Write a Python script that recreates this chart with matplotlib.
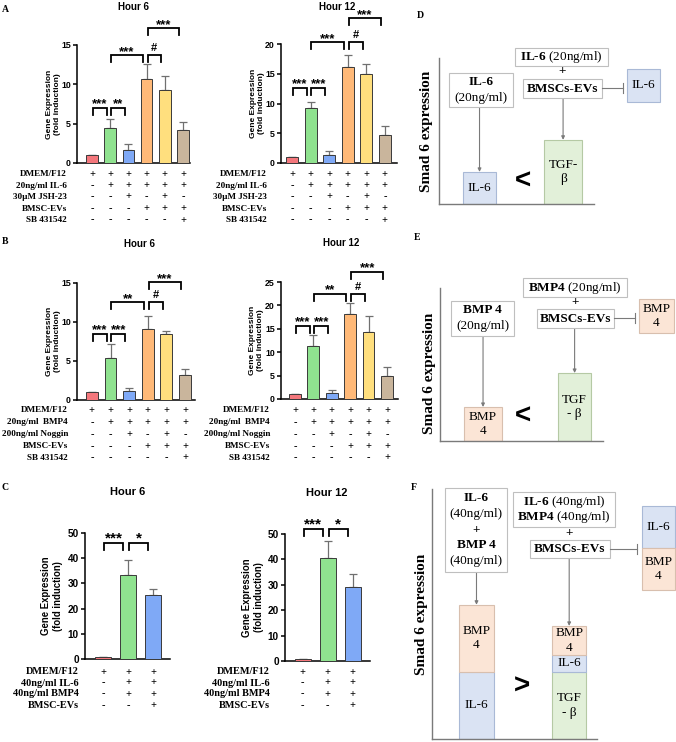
import matplotlib
matplotlib.use('Agg')
from matplotlib import pyplot as plt
from matplotlib import transforms
from matplotlib.patches import Rectangle
import numpy as np

plt.rcParams['mathtext.fontset'] = 'custom'
plt.rcParams['mathtext.rm'] = 'Liberation Serif'
plt.rcParams['mathtext.bf'] = 'Liberation Serif:bold'

W, H = 676, 742
SANS = 'Liberation Sans'
SERIF = 'Liberation Serif'

# bar chart data (fold induction, mean and upper SD)
bar_colors = ['#f4777c', '#8fe28f', '#7fa9f6', '#ffb978', '#ffdf7e', '#c9b59c']

a6_mean = [1.0, 4.4, 1.7, 10.7, 9.3, 4.2]
a6_err = [0.0, 1.25, 0.75, 1.85, 1.7, 1.05]
a12_mean = [1.0, 9.2, 1.4, 16.1, 14.9, 4.7]
a12_err = [0.0, 1.0, 0.55, 2.0, 1.8, 1.5]
b6_mean = [1.0, 5.35, 1.1, 9.15, 8.45, 3.15]
b6_err = [0.0, 1.85, 0.4, 1.65, 0.4, 0.8]
b12_mean = [1.0, 11.3, 1.2, 18.2, 14.3, 4.9]
b12_err = [0.0, 2.3, 0.7, 2.4, 3.4, 2.0]
c6_mean = [0.9, 33.5, 25.2]
c6_err = [0.0, 5.9, 2.5]
c12_mean = [0.9, 40.7, 29.3]
c12_err = [0.0, 6.4, 4.8]

# significance brackets: (bar i, bar j, height, label)
a6_sig = [(0, 1, 7.05, '***'), (1, 2, 7.05, '**'), (1, 3, 13.7, '***'),
          (3, 4, 13.7, '#'), (3, 5, 17.1, '***')]
a12_sig = [(0, 1, 12.6, '***'), (1, 2, 12.6, '***'), (1, 3, 20.3, '***'),
           (3, 4, 20.4, '#'), (3, 5, 24.3, '***')]
b6_sig = [(0, 1, 8.45, '***'), (1, 2, 8.45, '***'), (1, 3, 12.5, '**'),
          (3, 4, 12.5, '#'), (3, 5, 15.1, '***')]
b12_sig = [(0, 1, 15.6, '***'), (1, 2, 15.6, '***'), (1, 3, 22.5, '**'),
           (3, 4, 22.5, '#'), (3, 5, 27.2, '***')]
c6_sig = [(0, 1, 46.0, '***'), (1, 2, 46.0, '*')]
c12_sig = [(0, 1, 52.0, '***'), (1, 2, 52.0, '*')]

a_rows = ['DMEM/F12', '20ng/ml IL-6', '30µM JSH-23', 'BMSC-EVs', 'SB 431542']
b_rows = ['DMEM/F12', '20ng/ml  BMP4', '200ng/ml Noggin', 'BMSC-EVs', 'SB 431542']
c_rows = ['DMEM/F12', '40ng/ml IL-6', '40ng/ml BMP4', 'BMSC-EVs']
ab_signs = ['++++++', '-+++++', '--+-+-', '---+++', '-----+']
c_signs = ['+++', '-++', '-++', '--+']

# schematic data (relative Smad 6 level per stacked segment)
d_names = [['IL-6'], ['TGF-β']]
d_levels = [[1.0], [2.0]]
d_texts = [['IL-6'], ['TGF-\nβ']]
e_names = [['BMP4'], ['TGF-β']]
e_levels = [[1.0], [2.0]]
e_texts = [['BMP\n4'], ['TGF\n- β']]
f_names = [['IL-6', 'BMP4'], ['TGF-β', 'IL-6', 'BMP4']]
f_levels = [[2.0, 2.0], [2.0, 0.5, 0.87]]
f_texts = [['IL-6', 'BMP\n4'], ['TGF\n- β', 'IL-6', 'BMP\n4']]

seg_face = {'IL-6': '#dae3f3', 'BMP4': '#fbe5d6', 'TGF-β': '#e2f0d9'}
seg_edge = {'IL-6': '#a9b9d6', 'BMP4': '#d8bfae', 'TGF-β': '#b5c9a4'}


fig = plt.figure(figsize=(W / 100, H / 100), dpi=100)
ov = fig.add_axes([0, 0, 1, 1])
ov.set_xlim(0, W)
ov.set_ylim(H, 0)
ov.axis('off')
ov.set_zorder(10)
ov.patch.set_visible(False)


def px_rect(l, t, r, b):
    return [l / W, 1 - b / H, (r - l) / W, (b - t) / H]


def bar_panel(box, ymax, step, xlim, means, errs, brackets, rows, signs,
              row_y, row_x, title, title_xy, ylab_x, s=1.0, row_fs=6.6):
    l, t, r, b = box
    ax = fig.add_axes(px_rect(l, t, r, b))
    x = np.arange(len(means))
    ax.errorbar(x, means, yerr=[np.zeros(len(errs)), errs], fmt='none',
                ecolor='#707070', elinewidth=0.9, capsize=2.6, capthick=0.9, zorder=2)
    ax.bar(x, means, width=0.64, color=bar_colors[:len(means)] if len(means) == 6
           else bar_colors[:3], edgecolor='#3a3a3a', linewidth=0.7, zorder=3)
    ax.set_xlim(*xlim)
    ax.set_ylim(0, ymax)
    ax.set_yticks(np.arange(0, ymax + 0.1, step))
    ax.set_xticks([])
    for sp in ['top', 'right']:
        ax.spines[sp].set_visible(False)
    for sp in ['left', 'bottom']:
        ax.spines[sp].set_linewidth(1.1)
    ax.tick_params(axis='y', length=3, width=1.1, pad=1.5, labelsize=6.3 * s)
    for lb in ax.get_yticklabels():
        lb.set_fontweight('bold')
        lb.set_family(SANS)
    ax.set_ylabel('Gene Expression\n(fold induction)', fontsize=6 * s,
                  fontweight='bold', family=SANS, linespacing=1.25)
    ax.yaxis.set_label_coords(ylab_x, 0.5,
                              transform=transforms.blended_transform_factory(ov.transData, ax.transAxes))

    unit = ymax / (b - t)  # data units per pixel
    leg = 7 * unit
    for i, j, y, lab in brackets:
        x0, x1 = i + 0.05, j - 0.2
        ax.plot([x0, x0, x1, x1], [y - leg, y, y, y - leg], color='k', lw=1.3,
                clip_on=False, solid_joinstyle='miter')
        off = 4 * unit if lab == '#' else 0.5 * unit
        ax.text((x0 + x1) / 2, y + off, lab, ha='center', va='baseline',
                fontsize=(8 if lab == '#' else 9.5) * s, fontweight='bold', family=SANS)

    tr = transforms.blended_transform_factory(ax.transData, ov.transData)
    for lab, sg, yy in zip(rows, signs, row_y):
        ov.text(row_x, yy, lab, ha='right', va='center', family=SERIF,
                fontweight='bold', fontsize=row_fs)
        for k, c in enumerate(sg):
            ax.text(k, yy, c, transform=tr, ha='center', va='center', family=SERIF,
                    fontweight='bold', fontsize=7.5)

    ov.text(title_xy[0], title_xy[1], title, ha='center', va='center',
            family=SANS, fontweight='bold', fontsize=7 * s)
    return ax


ab_y = [174, 185.5, 197, 209, 220]
bb_y = [410.5, 422.5, 434.5, 446.5, 457.5]
cc_y = [672, 683, 694, 705.5]

bar_panel((77, 45, 190, 163), 15, 5, (-0.82, 5.38), a6_mean, a6_err, a6_sig,
          a_rows, ab_signs, ab_y, 67, 'Hour 6', (134, 7), 61)
bar_panel((281, 44, 397, 163), 20, 5, (-0.59, 5.65), a12_mean, a12_err, a12_sig,
          a_rows, ab_signs, ab_y, 267, 'Hour 12', (337, 7), 265)
bar_panel((77, 283, 195, 400), 15, 5, (-0.8, 5.54), b6_mean, b6_err, b6_sig,
          b_rows, ab_signs, bb_y, 68, 'Hour 6', (139, 244), 61)
bar_panel((281, 282, 398, 399), 25, 5, (-0.76, 5.6), b12_mean, b12_err, b12_sig,
          b_rows, ab_signs, bb_y, 270, 'Hour 12', (341, 243), 264)
bar_panel((85, 533, 170, 659), 50, 10, (-0.72, 2.68), c6_mean, c6_err, c6_sig,
          c_rows, c_signs, cc_y, 79, 'Hour 6', (128, 492), 63, s=1.15, row_fs=7.4)
bar_panel((285, 534, 370, 661), 50, 10, (-0.71, 2.69), c12_mean, c12_err, c12_sig,
          c_rows, c_signs, cc_y, 270, 'Hour 12', (327, 493), 264, s=1.15, row_fs=7.4)


def scheme_panel(box, ymax, xlim, widths, names, levels, texts, ylab_x, ylab_y):
    l, t, r, b = box
    ax = fig.add_axes(px_rect(l, t, r, b))
    tops = []
    for k in range(len(names)):
        base = 0.0
        for name, h, txt in zip(names[k], levels[k], texts[k]):
            ax.bar(k, h, bottom=base, width=widths[k], color=seg_face[name],
                   edgecolor=seg_edge[name], linewidth=0.8)
            ax.text(k, base + h / 2, txt, ha='center', va='center', family=SERIF,
                    fontsize=9.5, linespacing=1.25)
            base += h
        tops.append(base)
    ax.set_xlim(*xlim)
    ax.set_ylim(0, ymax)
    ax.set_xticks([])
    ax.set_yticks([])
    for sp in ['top', 'right']:
        ax.spines[sp].set_visible(False)
    for sp in ['left', 'bottom']:
        ax.spines[sp].set_color('#7a7a7a')
        ax.spines[sp].set_linewidth(1.0)
    ax.set_ylabel('Smad 6 expression', family=SERIF, fontweight='bold', fontsize=11)
    ax.yaxis.set_label_coords(ylab_x, ylab_y,
                              transform=transforms.blended_transform_factory(ov.transData, ax.transAxes))
    return ax, tops


def link(ax, k, top, y_from):
    ax.annotate('', xy=(k, top), xycoords='data', xytext=(k, y_from),
                textcoords=transforms.blended_transform_factory(ax.transData, ov.transData),
                arrowprops=dict(arrowstyle='-|>', color='#7a7a7a', lw=0.8,
                                mutation_scale=5, shrinkA=0, shrinkB=0))


def rect(x0, y0, x1, y1, fc='white', ec='#bfbfbf'):
    ov.add_patch(Rectangle((x0, y0), x1 - x0, y1 - y0, facecolor=fc, edgecolor=ec, lw=0.8))


def say(x, y, s, size=9.5, bold=False, family=SERIF):
    ov.text(x, y, s, ha='center', va='center', family=family, fontsize=size,
            fontweight='bold' if bold else 'normal', linespacing=1.2)


def block(x, y0, y1, x_end):
    ov.plot([x, x_end], [(y0 + y1) / 2] * 2, color='#7a7a7a', lw=0.8)
    ov.plot([x_end, x_end], [(y0 + y1) / 2 - 5, (y0 + y1) / 2 + 5], color='#7a7a7a', lw=0.8)


# D
axd, dt = scheme_panel((439, 58, 594, 204), 4.55, (-0.485, 1.37), (0.4, 0.45),
                       d_names, d_levels, d_texts, 433, 0.5)
rect(449, 73, 513, 107)
say(481, 82, 'IL-6', bold=True)
say(481, 98, '(20ng/ml)')
link(axd, 0, dt[0], 107)
rect(515, 48, 608, 66)
say(561.5, 57, r'$\mathbf{IL}$-$\mathbf{6}$ (20ng/ml)')
say(562, 71, '+', bold=True)
rect(523, 79, 602, 98)
say(562.5, 88.5, 'BMSCs-EVs', bold=True)
block(602, 79, 96, 623)
rect(627, 69, 660, 102, seg_face['IL-6'], seg_edge['IL-6'])
say(643.5, 85.5, 'IL-6')
link(axd, 1, dt[1], 98)
say(523, 182, '<', size=20, bold=True, family=SANS)

# E
axe, et = scheme_panel((440, 288, 603, 441), 4.5, (-0.47, 1.31), (0.415, 0.36),
                       e_names, e_levels, e_texts, 436, 0.444)
rect(451, 301, 514, 336)
say(482.5, 310, 'BMP 4', bold=True)
say(482.5, 326, '(20ng/ml)')
link(axe, 0, et[0], 336)
rect(523, 278, 627, 297)
say(575, 287.5, r'$\mathbf{BMP4}$ (20ng/ml)')
say(575, 302, '+', bold=True)
rect(537, 309, 614, 328)
say(575.5, 318.5, 'BMSCs-EVs', bold=True)
block(614, 309, 326, 635)
rect(639, 299, 674, 333, seg_face['BMP4'], seg_edge['BMP4'])
say(656.5, 316, 'BMP\n4')
link(axe, 1, et[1], 328)
say(523, 417, '<', size=20, bold=True, family=SANS)

# F
axf, ft = scheme_panel((432, 489, 597, 739), 7.45, (-0.48, 1.30), (0.38, 0.37),
                       f_names, f_levels, f_texts, 428, 0.5)
rect(445, 488, 507, 572)
say(476, 498, 'IL-6', bold=True)
say(476, 513.5, '(40ng/ml)')
say(476, 530, '+', bold=True)
say(476, 545, 'BMP 4', bold=True)
say(476, 561, '(40ng/ml)')
link(axf, 0, ft[0], 572)
rect(513, 492, 615, 527)
say(564, 502, r'$\mathbf{IL}$-$\mathbf{6}$ (40ng/ml)')
say(564, 517, r'$\mathbf{BMP4}$ (40ng/ml)')
say(569, 533, '+', bold=True)
rect(530, 540, 610, 558)
say(570, 549, 'BMSCs-EVs', bold=True)
block(610, 540, 558, 637)
rect(642, 506, 675, 548, seg_face['IL-6'], seg_edge['IL-6'])
say(658.5, 527, 'IL-6')
rect(642, 548, 675, 590, seg_face['BMP4'], seg_edge['BMP4'])
say(658.5, 569, 'BMP\n4')
link(axf, 1, ft[1], 558)
say(522, 687, '>', size=20, bold=True, family=SANS)

# panel letters
for letter, lx, ly in [('A', 5, 10), ('B', 5, 241), ('C', 5, 488),
                       ('D', 420, 15), ('E', 417, 238), ('F', 414, 487)]:
    say(lx, ly, letter, size=7, bold=True)

fig.savefig('out.png', dpi=100)
